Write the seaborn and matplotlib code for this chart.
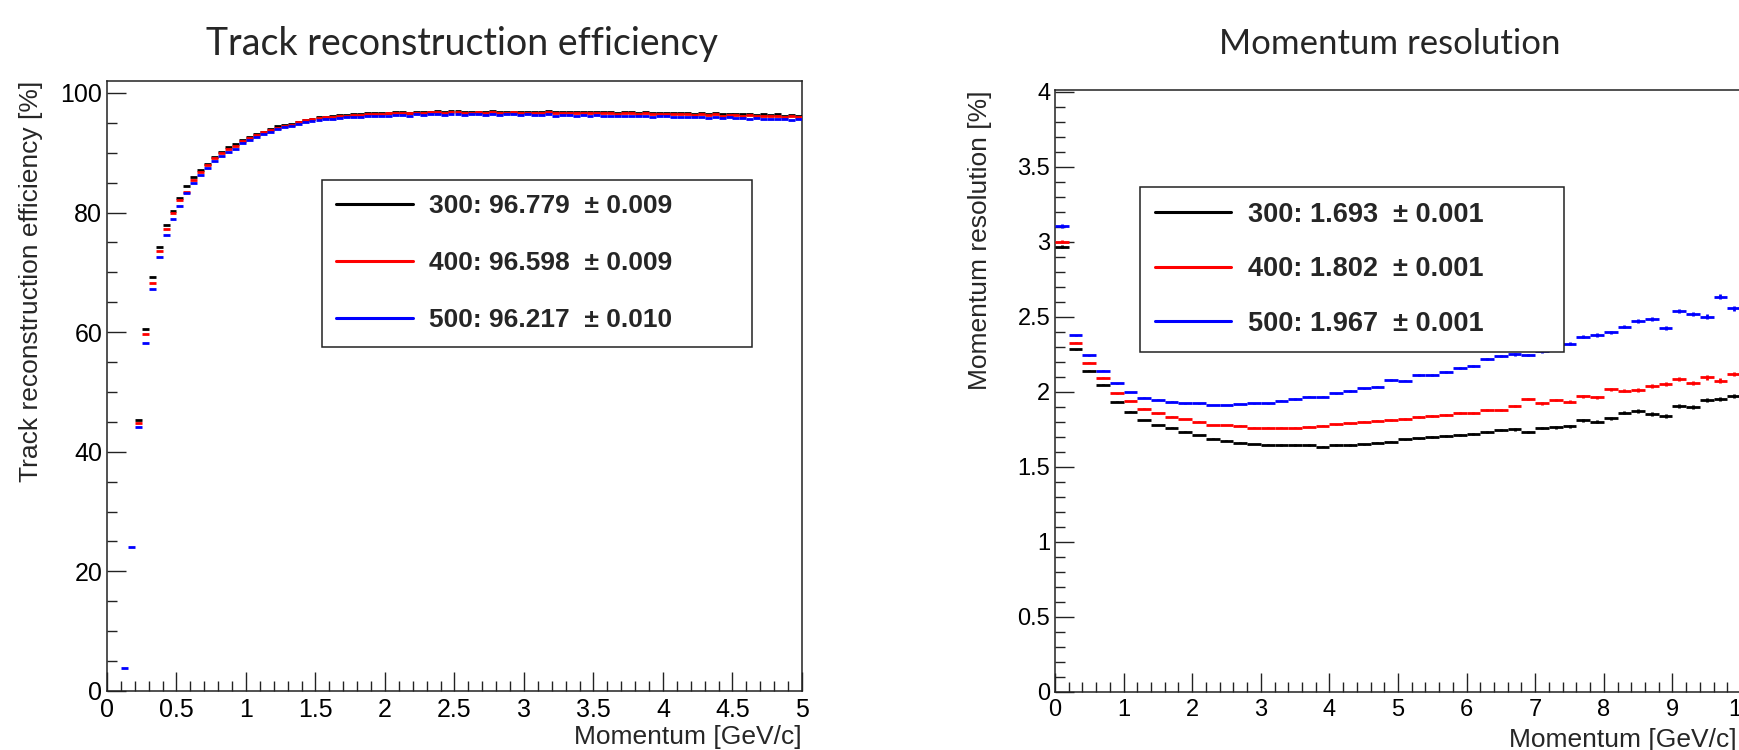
import numpy as np
import pandas as pd
import seaborn as sns
import matplotlib
matplotlib.use("Agg")
import matplotlib.pyplot as plt
from matplotlib.ticker import MultipleLocator, FormatStrFormatter
from matplotlib.lines import Line2D

nan = np.nan

# ---- efficiency histogram (bins of 0.05 GeV/c from 0 to 5) ----
eff_bin_width = 0.05
eff_300 = [nan, nan, nan, nan, 45.3, 60.5, 69.3, 74.3, 77.9, 80.3,
           82.5, 84.4, 86.0, 87.2, 88.1, 89.3, 90.2, 90.9, 91.5, 92.1,
           92.7, 93.1, 93.5, 93.9, 94.4, 94.6, 94.8, 95.2, 95.5, 95.7,
           95.9, 96.0, 96.1, 96.3, 96.3, 96.4, 96.5, 96.6, 96.6, 96.7,
           96.7, 96.8, 96.8, 96.7, 96.9, 96.8, 96.9, 97.0, 96.9, 97.0,
           97.0, 96.9, 96.8, 96.9, 96.9, 97.0, 96.8, 96.9, 96.9, 96.8,
           96.9, 96.8, 96.9, 97.0, 96.8, 96.9, 96.8, 96.9, 96.8, 96.9,
           96.8, 96.9, 96.8, 96.7, 96.9, 96.8, 96.7, 96.8, 96.6, 96.7,
           96.7, 96.6, 96.7, 96.6, 96.5, 96.6, 96.5, 96.6, 96.4, 96.5,
           96.5, 96.4, 96.5, 96.3, 96.4, 96.3, 96.4, 96.2, 96.3, 96.2]
eff_400 = [nan, nan, nan, nan, 44.8, 59.7, 68.3, 73.6, 77.3, 79.9,
           82.1, 83.5, 85.5, 86.8, 88.0, 89.2, 89.9, 90.7, 91.2, 92.0,
           92.5, 93.0, 93.4, 93.8, 94.2, 94.5, 94.7, 95.1, 95.4, 95.6,
           95.8, 95.9, 96.0, 96.1, 96.2, 96.3, 96.3, 96.4, 96.5, 96.5,
           96.6, 96.6, 96.7, 96.6, 96.7, 96.7, 96.8, 96.8, 96.7, 96.8,
           96.8, 96.7, 96.7, 96.8, 96.7, 96.8, 96.7, 96.7, 96.8, 96.7,
           96.7, 96.6, 96.7, 96.8, 96.6, 96.7, 96.6, 96.7, 96.6, 96.7,
           96.6, 96.7, 96.6, 96.5, 96.6, 96.6, 96.5, 96.6, 96.4, 96.5,
           96.5, 96.4, 96.5, 96.4, 96.3, 96.4, 96.3, 96.4, 96.2, 96.3,
           96.3, 96.2, 96.3, 96.1, 96.2, 96.1, 96.2, 96.0, 96.1, 96.0]
eff_500 = [nan, nan, 3.8, 24.1, 44.2, 58.2, 67.3, 72.6, 76.3, 78.9,
           81.1, 83.2, 84.9, 86.3, 87.4, 88.7, 89.5, 90.2, 90.7, 91.6,
           92.2, 92.7, 93.1, 93.5, 94.0, 94.3, 94.5, 94.8, 95.1, 95.3,
           95.5, 95.6, 95.7, 95.8, 95.9, 96.0, 96.0, 96.1, 96.1, 96.2,
           96.2, 96.3, 96.3, 96.2, 96.4, 96.3, 96.4, 96.4, 96.3, 96.5,
           96.4, 96.3, 96.4, 96.4, 96.3, 96.4, 96.3, 96.4, 96.4, 96.3,
           96.4, 96.3, 96.3, 96.4, 96.2, 96.3, 96.3, 96.2, 96.3, 96.2,
           96.3, 96.2, 96.2, 96.1, 96.2, 96.1, 96.1, 96.2, 96.0, 96.1,
           96.1, 95.9, 96.0, 96.0, 95.9, 96.0, 95.8, 95.9, 95.8, 95.9,
           95.8, 95.8, 95.7, 95.8, 95.7, 95.6, 95.7, 95.6, 95.5, 95.6]
eff_labels = ["300: 96.779  ± 0.009", "400: 96.598  ± 0.009", "500: 96.217  ± 0.010"]

# ---- momentum resolution histogram (bins of 0.2 GeV/c from 0 to 10) ----
res_bin_width = 0.2
res_300 = [2.969, 2.284, 2.142, 2.047, 1.936, 1.869, 1.813, 1.780, 1.762, 1.735,
           1.713, 1.687, 1.676, 1.662, 1.653, 1.647, 1.647, 1.647, 1.647, 1.636,
           1.647, 1.647, 1.651, 1.662, 1.669, 1.684, 1.690, 1.698, 1.705, 1.713,
           1.720, 1.731, 1.747, 1.751, 1.735, 1.760, 1.764, 1.773, 1.813, 1.802,
           1.824, 1.862, 1.873, 1.853, 1.840, 1.909, 1.898, 1.947, 1.953, 1.973]
res_400 = [3.002, 2.329, 2.196, 2.096, 1.991, 1.940, 1.887, 1.858, 1.836, 1.820,
           1.802, 1.780, 1.780, 1.776, 1.762, 1.762, 1.762, 1.762, 1.769, 1.776,
           1.784, 1.791, 1.802, 1.809, 1.813, 1.820, 1.835, 1.840, 1.845, 1.858,
           1.860, 1.880, 1.880, 1.907, 1.953, 1.924, 1.947, 1.936, 1.973, 1.964,
           2.018, 2.009, 2.013, 2.040, 2.051, 2.087, 2.058, 2.098, 2.076, 2.120]
res_500 = [3.107, 2.378, 2.244, 2.142, 2.058, 2.000, 1.962, 1.947, 1.936, 1.924,
           1.924, 1.913, 1.913, 1.920, 1.924, 1.924, 1.942, 1.953, 1.969, 1.969,
           1.991, 2.007, 2.024, 2.036, 2.080, 2.076, 2.113, 2.113, 2.131, 2.162,
           2.173, 2.218, 2.240, 2.251, 2.247, 2.270, 2.290, 2.320, 2.369, 2.380,
           2.398, 2.436, 2.473, 2.484, 2.427, 2.542, 2.520, 2.502, 2.636, 2.558]
res_err = [0.012, 0.003, 0.003, 0.003, 0.003, 0.003, 0.003, 0.003, 0.003, 0.003,
           0.003, 0.003, 0.003, 0.003, 0.003, 0.003, 0.004, 0.004, 0.004, 0.004,
           0.004, 0.004, 0.005, 0.005, 0.005, 0.005, 0.006, 0.006, 0.006, 0.007,
           0.007, 0.007, 0.008, 0.008, 0.008, 0.009, 0.009, 0.010, 0.010, 0.011,
           0.011, 0.012, 0.012, 0.013, 0.013, 0.014, 0.014, 0.015, 0.016, 0.016]
res_labels = ["300: 1.693  ± 0.001", "400: 1.802  ± 0.001", "500: 1.967  ± 0.001"]

colors = ["#000000", "#ff0000", "#0000ff"]

sns.set_theme(style="ticks")
plt.rcParams['font.family'] = ['Liberation Sans', 'DejaVu Sans']


def bins_frame(values_list, width):
    n = len(values_list[0])
    centers = (np.arange(n) + 0.5) * width
    df = pd.DataFrame({"x": centers})
    for i, v in enumerate(values_list):
        df[f"s{i}"] = v
    return df


def draw_hist(ax, df, width, yerr=None, lw=2.0):
    # ROOT-style histogram markers: horizontal bar over the bin + small error bar
    for i, c in enumerate(colors):
        d = df[["x", f"s{i}"]].copy()
        if yerr is not None:
            d["err"] = yerr
        d = d.dropna()
        ax.errorbar(d["x"], d[f"s{i}"], xerr=width / 2,
                    yerr=d["err"] if yerr is not None else None,
                    fmt="none", ecolor=c, elinewidth=lw, capsize=0, zorder=3 + i)


def root_axes(ax, xmaj, xmin, ymaj, ymin, fs):
    ax.xaxis.set_major_locator(MultipleLocator(xmaj))
    ax.xaxis.set_minor_locator(MultipleLocator(xmin))
    ax.yaxis.set_major_locator(MultipleLocator(ymaj))
    ax.yaxis.set_minor_locator(MultipleLocator(ymin))
    ax.xaxis.set_major_formatter(FormatStrFormatter("%g"))
    ax.yaxis.set_major_formatter(FormatStrFormatter("%g"))
    ax.tick_params(which="both", direction="in", top=False, right=False,
                   width=1.0, colors="#222222", labelcolor="black", labelsize=fs)
    ax.tick_params(which="major", length=14)
    ax.tick_params(which="minor", length=7.5)
    ax.tick_params(axis="x", pad=5)
    ax.tick_params(axis="y", pad=3.5)
    for s in ax.spines.values():
        s.set_linewidth(1.1)
        s.set_color("#222222")
    ax.set_facecolor("white")


fig = plt.figure(figsize=(17.4, 7.5), dpi=100)
fig.patch.set_facecolor("white")

# ---- left panel ----
ax1 = fig.add_axes([107 / 1740, 59 / 750, 695 / 1740, 610 / 750])
df_eff = bins_frame([eff_300, eff_400, eff_500], eff_bin_width)
draw_hist(ax1, df_eff, eff_bin_width, lw=2.0)
ax1.set_xlim(0, 5)
ax1.set_ylim(0, 102)
root_axes(ax1, 0.5, 0.1, 20, 5, 18)
ax1.set_xlabel("Momentum [GeV/c]", fontsize=19, ha="right")
ax1.xaxis.set_label_coords(1.0, -0.055)
ax1.set_ylabel("Track reconstruction efficiency [%]", fontsize=19, ha="right")
ax1.yaxis.set_label_coords(-0.092, 1.0)
handles = [Line2D([], [], color=c, lw=2.2) for c in colors]
leg1 = ax1.legend(handles, eff_labels, loc="upper left",
                  bbox_to_anchor=(0.309, 0.0, 0.619, 0.838), mode="expand",
                  borderaxespad=0, frameon=True, fancybox=False, framealpha=1,
                  edgecolor="#222222", handlelength=2.9, handletextpad=0.6,
                  borderpad=0.55, labelspacing=1.25,
                  prop={"size": 19, "weight": "bold"})
leg1.get_frame().set_linewidth(1.1)
leg1.set_zorder(10)
fig.text(462 / 1740, 1 - 44 / 750, "Track reconstruction efficiency",
         fontsize=27, family=["Lato", "DejaVu Sans"], ha="center", va="center")

# ---- right panel (cut off at the right edge of the slide) ----
ax2 = fig.add_axes([1055 / 1740, 58 / 750, 686 / 1740, 602 / 750])
df_res = bins_frame([res_300, res_400, res_500], res_bin_width)
draw_hist(ax2, df_res, res_bin_width, yerr=res_err, lw=2.0)
ax2.set_xlim(0, 10)
ax2.set_ylim(0, 4.013)
root_axes(ax2, 1, 0.2, 0.5, 0.1, 17)
ax2.set_xlabel("Momentum [GeV/c]", fontsize=19, ha="right")
ax2.xaxis.set_label_coords(0.994, -0.06)
ax2.set_ylabel("Momentum resolution [%]", fontsize=19, ha="right")
ax2.yaxis.set_label_coords(-0.092, 1.0)
leg2 = ax2.legend(handles, res_labels, loc="upper left",
                  bbox_to_anchor=(0.124, 0.0, 0.618, 0.839), mode="expand",
                  borderaxespad=0, frameon=True, fancybox=False, framealpha=1,
                  edgecolor="#222222", handlelength=2.8, handletextpad=0.62,
                  borderpad=0.55, labelspacing=1.05,
                  prop={"size": 19.5, "weight": "bold"})
leg2.get_frame().set_linewidth(1.1)
leg2.set_zorder(10)
fig.text(1390 / 1740, 1 - 44 / 750, "Momentum resolution",
         fontsize=25, family=["Lato", "DejaVu Sans"], ha="center", va="center")

fig.savefig("out.png", dpi=100, facecolor="white")
